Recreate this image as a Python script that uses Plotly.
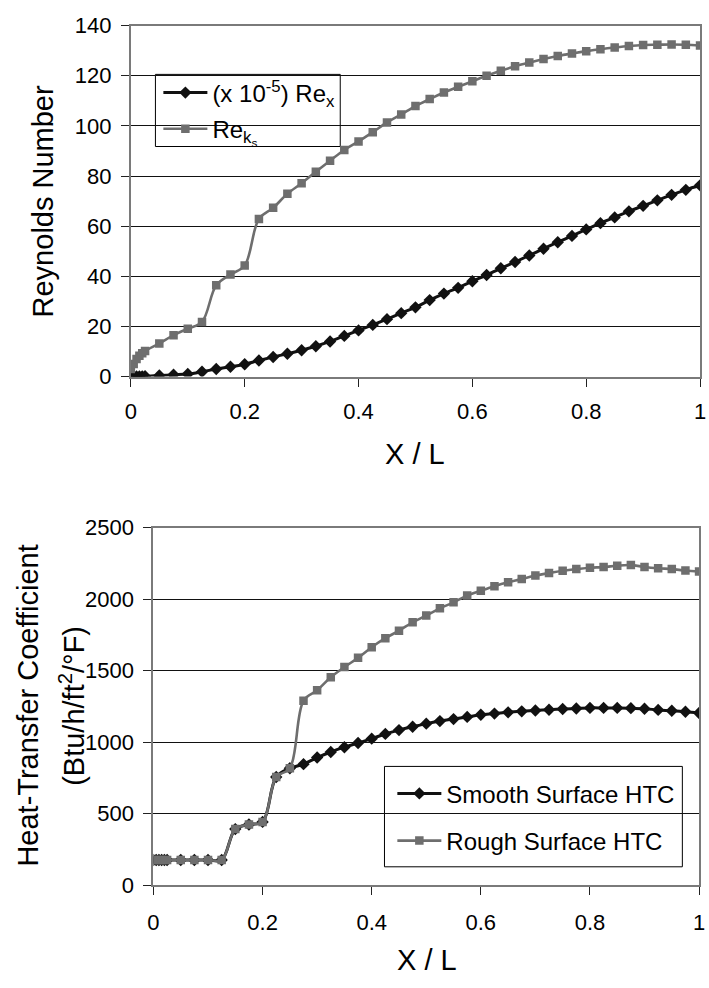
import plotly.graph_objects as go

# Streamwise position (fraction of length)
x_over_l = [0, 0.005, 0.01, 0.015, 0.02, 0.025, 0.05, 0.075, 0.1, 0.125,
            0.15, 0.175, 0.2, 0.225, 0.25, 0.275, 0.3, 0.325, 0.35, 0.375,
            0.4, 0.425, 0.45, 0.475, 0.5, 0.525, 0.55, 0.575, 0.6, 0.625,
            0.65, 0.675, 0.7, 0.725, 0.75, 0.775, 0.8, 0.825, 0.85, 0.875,
            0.9, 0.925, 0.95, 0.975, 1.0]

# Local Reynolds number, scaled by 1e-5
re_x_scaled = [0, 0.02, 0.04, 0.06, 0.08, 0.1, 0.4, 0.7, 1.0, 1.9,
               3.0, 3.9, 4.9, 6.4, 7.8, 9.1, 10.5, 12.1, 14.0, 16.2,
               18.4, 20.6, 22.9, 25.3, 27.6, 30.5, 33.1, 35.4, 38.0, 40.5,
               43.2, 45.7, 48.3, 51.0, 53.6, 56.1, 58.7, 61.2, 63.5, 65.9,
               68.1, 70.3, 72.5, 74.5, 76.3]

# Roughness Reynolds number
re_ks = [3.0, 5.0, 7.0, 8.3, 9.3, 10.2, 13.2, 16.5, 19.1, 21.8,
         36.4, 40.7, 44.3, 62.9, 67.3, 72.9, 77.1, 81.7, 86.1, 90.4,
         93.8, 97.5, 101.4, 104.6, 107.9, 110.7, 113.3, 115.6, 117.8, 120.0,
         122.0, 123.8, 125.3, 126.7, 127.9, 128.9, 129.8, 130.6, 131.3, 131.9,
         132.3, 132.4, 132.5, 132.4, 132.1]

# Heat-transfer coefficients, Btu/h/ft^2/F
htc_smooth = [177, 177, 177, 177, 177, 177, 177, 177, 177, 177,
              393, 425, 443, 757, 818, 847, 893, 932, 965, 995,
              1025, 1058, 1085, 1108, 1130, 1148, 1162, 1177, 1192, 1200,
              1209, 1216, 1222, 1227, 1232, 1236, 1240, 1240, 1240, 1238,
              1234, 1226, 1220, 1213, 1204]

htc_rough = [177, 177, 177, 177, 177, 177, 177, 177, 177, 177,
             393, 425, 443, 757, 818, 1290, 1363, 1454, 1525, 1590,
             1664, 1727, 1780, 1838, 1886, 1936, 1978, 2025, 2059, 2091,
             2118, 2140, 2165, 2182, 2199, 2210, 2220, 2224, 2234, 2238,
             2225, 2216, 2210, 2200, 2193]

W, H = 709, 988
FONT = "Liberation Sans, Arial, Helvetica, sans-serif"
BLACK = "#111111"
GRAY = "#6e6e6e"


def px_x(p):
    return p / W


def px_y(p):
    return 1 - p / H


fig = go.Figure()

fig.add_trace(go.Scatter(
    x=x_over_l, y=re_x_scaled, name="(x 10<sup>-5</sup>) Re<sub>x</sub>",
    mode="lines+markers", line=dict(color=BLACK, width=3, shape="spline"),
    marker=dict(symbol="diamond", size=9.5, color=BLACK),
    xaxis="x", yaxis="y", legend="legend", legendgroup="a"))
fig.add_trace(go.Scatter(
    x=x_over_l, y=re_ks, name="Re<sub>k<sub>s</sub></sub>",
    mode="lines+markers", line=dict(color=GRAY, width=2.6, shape="spline"),
    marker=dict(symbol="square", size=8.5, color=GRAY),
    xaxis="x", yaxis="y", legend="legend", legendgroup="b"))

fig.add_trace(go.Scatter(
    x=x_over_l, y=htc_smooth, name="Smooth Surface HTC",
    mode="lines+markers", line=dict(color=BLACK, width=3, shape="spline"),
    marker=dict(symbol="diamond", size=9.5, color=BLACK),
    xaxis="x2", yaxis="y2", legend="legend2", legendgroup="c"))
fig.add_trace(go.Scatter(
    x=x_over_l, y=htc_rough, name="Rough Surface HTC",
    mode="lines+markers", line=dict(color=GRAY, width=2.6, shape="spline"),
    marker=dict(symbol="square", size=8.5, color=GRAY),
    xaxis="x2", yaxis="y2", legend="legend2", legendgroup="d"))

axis_common = dict(
    showline=True, linecolor="#7a7a7a", linewidth=2, mirror=True,
    ticks="outside", ticklen=8, tickwidth=1, tickcolor="#222222",
    tickfont=dict(family=FONT, size=22, color="#000000"),
    zeroline=False, ticklabeloverflow="allow",
)

top_x = [px_x(127), px_x(706)]
top_y = [px_y(374), px_y(14)]
bot_x = [px_x(150), px_x(705)]
bot_y = [px_y(896), px_y(529)]

legend_font = dict(family=FONT, size=24, color="#000000")

fig.update_layout(
    width=W, height=H,
    margin=dict(l=0, r=0, t=0, b=0),
    paper_bgcolor="white", plot_bgcolor="white",
    font=dict(family=FONT, color="#000000"),
    xaxis=dict(domain=top_x, anchor="y", range=[0, 1], dtick=0.2,
               showgrid=False, ticklabelstandoff=6, **axis_common),
    yaxis=dict(domain=top_y, anchor="x", range=[0, 140], dtick=20,
               showgrid=True, gridcolor="#111111", gridwidth=1,
               ticklabelstandoff=5, **axis_common),
    xaxis2=dict(domain=bot_x, anchor="y2", range=[0, 1], dtick=0.2,
                showgrid=False, ticklabelstandoff=8, **axis_common),
    yaxis2=dict(domain=bot_y, anchor="x2", range=[0, 2500], dtick=500,
                showgrid=True, gridcolor="#111111", gridwidth=1,
                ticklabelstandoff=5, **axis_common),
    legend=dict(x=px_x(155), y=px_y(60), xanchor="left", yanchor="top",
                bgcolor="rgba(0,0,0,0)", borderwidth=0,
                font=legend_font, itemwidth=44, tracegroupgap=2,
                traceorder="grouped"),
    legend2=dict(x=px_x(393), y=px_y(779), xanchor="left", yanchor="top",
                 bgcolor="rgba(0,0,0,0)", borderwidth=0,
                 font=legend_font, itemwidth=44, tracegroupgap=13,
                 traceorder="grouped"),
    showlegend=True,
)

# Legend frames, opaque so the gridlines stop at their edges
for (x0, y0, x1, y1) in [(152, 64, 340, 138), (385, 774, 688, 877)]:
    fig.add_shape(type="rect", xref="paper", yref="paper",
                  x0=px_x(x0), x1=px_x(x1), y0=px_y(y1), y1=px_y(y0),
                  line=dict(color="#000000", width=1), fillcolor="white",
                  layer="between")

title_font = dict(family=FONT, size=29, color="#000000")
fig.add_annotation(text="Reynolds Number", x=px_x(38), y=px_y(194),
                   xref="paper", yref="paper", textangle=-90,
                   showarrow=False, font=title_font,
                   xanchor="center", yanchor="middle")
fig.add_annotation(text="X / L", x=px_x(416), y=px_y(453),
                   xref="paper", yref="paper", showarrow=False,
                   font=title_font, xanchor="center", yanchor="middle")
fig.add_annotation(text="Heat-Transfer Coefficient", x=px_x(22), y=px_y(712),
                   xref="paper", yref="paper", textangle=-90,
                   showarrow=False, font=title_font,
                   xanchor="center", yanchor="middle")
fig.add_annotation(text="(Btu/h/ft<sup>2</sup>/°F)", x=px_x(67), y=px_y(712),
                   xref="paper", yref="paper", textangle=-90,
                   showarrow=False, font=title_font,
                   xanchor="center", yanchor="middle")
fig.add_annotation(text="X / L", x=px_x(428), y=px_y(973),
                   xref="paper", yref="paper", showarrow=False,
                   font=title_font, xanchor="center", yanchor="middle")

fig.write_html("out.html")
